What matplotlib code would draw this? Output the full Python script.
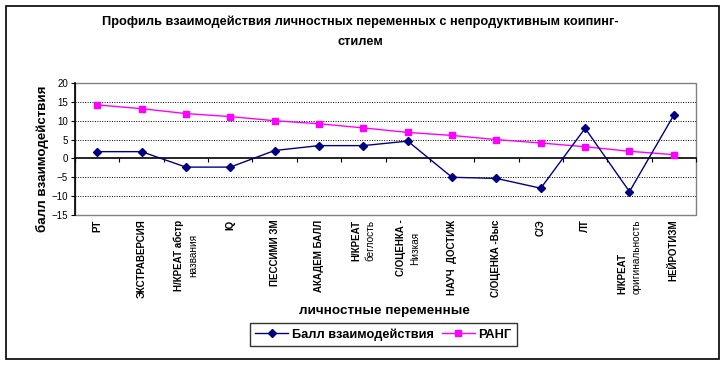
import numpy as np
import matplotlib.pyplot as plt
from matplotlib.patches import Rectangle

plt.rcParams['font.family'] = ['Liberation Sans', 'DejaVu Sans']

# categories (x tick labels); second line of a label is drawn in normal weight
categories = ['РТ', 'ЭКСТРАВЕРСИЯ', 'Н/КРЕАТ абстр\nназвания', 'IQ', 'ПЕССИМИ ЗМ',
              'АКАДЕМ БАЛЛ', 'Н/КРЕАТ\nбеглость', 'С/ОЦЕНКА -\nНизкая', 'НАУЧ  ДОСТИЖ',
              'С/ОЦЕНКА -Выс', 'С/Э', 'ЛТ', 'Н/КРЕАТ\nоригинальность', 'НЕЙРОТИЗМ']
score = [1.8, 1.8, -2.3, -2.3, 2.1, 3.4, 3.4, 4.6, -5.0, -5.3, -7.9, 8.0, -8.8, 11.5]
rank = [14.2, 13.2, 11.9, 11.1, 10.0, 9.2, 8.1, 6.9, 6.1, 5.0, 4.1, 3.1, 1.9, 1.0]
y_ticks = [-15, -10, -5, 0, 5, 10, 15, 20]

fig = plt.figure(figsize=(7.26, 3.65), dpi=100)
ax = fig.add_axes([0.1033, 0.411, 0.8554, 0.3615])

x = np.arange(len(categories))
ax.plot(x, rank, color='#FF00FF', marker='s', markersize=5, lw=1, label='РАНГ', zorder=3)
ax.plot(x, score, color='#000080', marker='D', markersize=4.5, lw=1,
        label='Балл взаимодействия', zorder=4)

ax.set_xlim(-0.5, len(categories) - 0.5)
ax.set_ylim(-15, 20)
ax.set_yticks(y_ticks)
ax.tick_params(axis='y', labelsize=7, length=3, width=0.8, pad=2)
for v in y_ticks:
    if v not in (0, -15, 20):
        ax.axhline(v, color='black', lw=0.7, ls=(0, (1, 1.5)), zorder=1)

# category axis crosses at zero
ax.spines['bottom'].set_position(('data', 0))
ax.spines['bottom'].set_linewidth(1.2)
ax.spines['left'].set_linewidth(1.2)
for s in ['top', 'right']:
    ax.spines[s].set_visible(False)
ax.set_xticks(np.arange(len(categories) + 1) - 0.5)
ax.set_xticklabels([])
ax.tick_params(axis='x', length=3, width=0.8, direction='out')
ax.add_patch(Rectangle((0, 0), 1, 1, transform=ax.transAxes, fill=False,
                       edgecolor='#808080', lw=1, zorder=0, clip_on=False))

# tick labels at the low end of the plot area (text runs bottom to top)
xt = ax.get_xaxis_transform()
top = -0.035
pairs = []
for i, lab in enumerate(categories):
    parts = lab.split('\n')
    dx = 0.16 if len(parts) > 1 else 0
    t1 = ax.text(i - dx, top, parts[0], transform=xt, rotation=90,
                 ha='center', va='top', fontsize=7, fontweight='bold')
    if len(parts) > 1:
        t2 = ax.text(i + dx, top, parts[1], transform=xt, rotation=90,
                     ha='center', va='top', fontsize=7.2)
        pairs.append((t1, t2, i == len(categories) - 2))

fig.canvas.draw()
r = fig.canvas.get_renderer()
inv = ax.transAxes.inverted()
y_top = ax.transAxes.transform((0, top))[1]
for t1, t2, from_start in pairs:
    h1 = t1.get_window_extent(r).height
    h2 = t2.get_window_extent(r).height
    L = max(h1, h2)
    for t, h in ((t1, h1), (t2, h2)):
        if from_start:
            yb = y_top - L
            t.set_va('bottom')
            t.set_y(inv.transform((0, yb))[1])
        else:
            yc = y_top - L / 2
            t.set_va('center')
            t.set_y(inv.transform((0, yc))[1])

fig.text(0.496, 0.94, 'Профиль взаимодействия личностных переменных с непродуктивным коипинг-',
         ha='center', va='center', fontsize=9.2, fontweight='bold')
fig.text(0.496, 0.885, 'стилем', ha='center', va='center', fontsize=9.2, fontweight='bold')
fig.text(0.530, 0.148, 'личностные переменные', ha='center', va='center',
         fontsize=9.7, fontweight='bold')
fig.text(0.058, 0.565, 'балл взаимодействия', ha='center', va='center', rotation=90,
         fontsize=9.6, fontweight='bold')

h, l = ax.get_legend_handles_labels()
leg = fig.legend(h[::-1], l[::-1], loc='center', bbox_to_anchor=(0.528, 0.083), ncol=2,
                 frameon=True, fancybox=False, edgecolor='black',
                 handlelength=2.6, columnspacing=0.6, handletextpad=0.3,
                 borderpad=0.4, prop={'weight': 'bold', 'size': 9.2})
leg.get_frame().set_linewidth(1)

fig.add_artist(Rectangle((0.008, 0.0164), 0.982, 0.967, transform=fig.transFigure,
                         fill=False, edgecolor='black', lw=1.2))

fig.savefig('out.png', dpi=100)
